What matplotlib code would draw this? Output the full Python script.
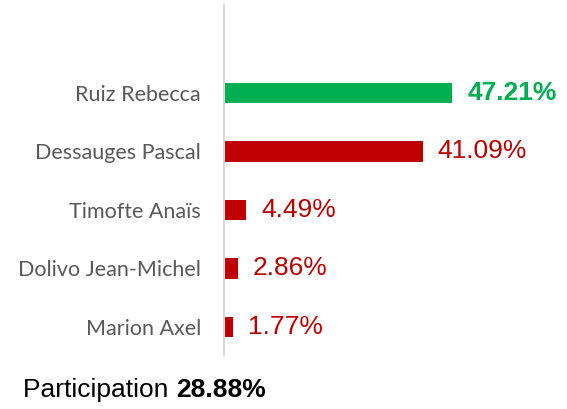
import matplotlib
matplotlib.use("Agg")
import matplotlib.pyplot as plt

names = ["Marion Axel", "Dolivo Jean-Michel", "Timofte Anaïs", "Dessauges Pascal", "Ruiz Rebecca"]
values = [1.77, 2.86, 4.49, 41.09, 47.21]
labels = ["1.77%", "2.86%", "4.49%", "41.09%", "47.21%"]
winner_color = "#00B050"
other_color = "#C00000"
participation_label = "Participation "
participation_value = "28.88%"

W, H = 567, 409
fig = plt.figure(figsize=(W / 100, H / 100), dpi=100)
ax = fig.add_axes([224 / W, (H - 355) / H, 1 - 224 / W, 350 / H])

colors = [other_color] * (len(values) - 1) + [winner_color]
ypos = list(range(len(values)))
ax.barh(ypos, values, height=0.35, color=colors)
ax.set_xlim(0, 71)
ax.set_ylim(-0.48, 5.5)

for y, v, lab, c in zip(ypos, values, labels, colors):
    ax.annotate(lab, xy=(v, y), xytext=(11, 0), textcoords="offset points",
                va="center", ha="left", color=c, fontsize=19,
                fontfamily="Liberation Sans",
                fontweight="bold" if c == winner_color else "normal")

ax.set_yticks(ypos)
ax.set_yticklabels(names, fontfamily="Lato", fontsize=15.5, color="#595959")
ax.tick_params(axis="y", length=0, pad=16.5)
ax.set_xticks([])
for s in ["top", "right", "bottom"]:
    ax.spines[s].set_visible(False)
ax.spines["left"].set_color("#D9D9D9")
ax.spines["left"].set_linewidth(1.5)

t1 = fig.text(23 / W, (H - 397) / H, participation_label, fontsize=19,
              fontfamily="Liberation Sans", color="black", va="baseline", ha="left")
fig.canvas.draw()
bb = t1.get_window_extent()
fig.text(bb.x1 / W, (H - 397) / H, participation_value, fontsize=19,
         fontfamily="Liberation Sans", fontweight="bold", color="black",
         va="baseline", ha="left")

fig.savefig("out.png", dpi=100)
